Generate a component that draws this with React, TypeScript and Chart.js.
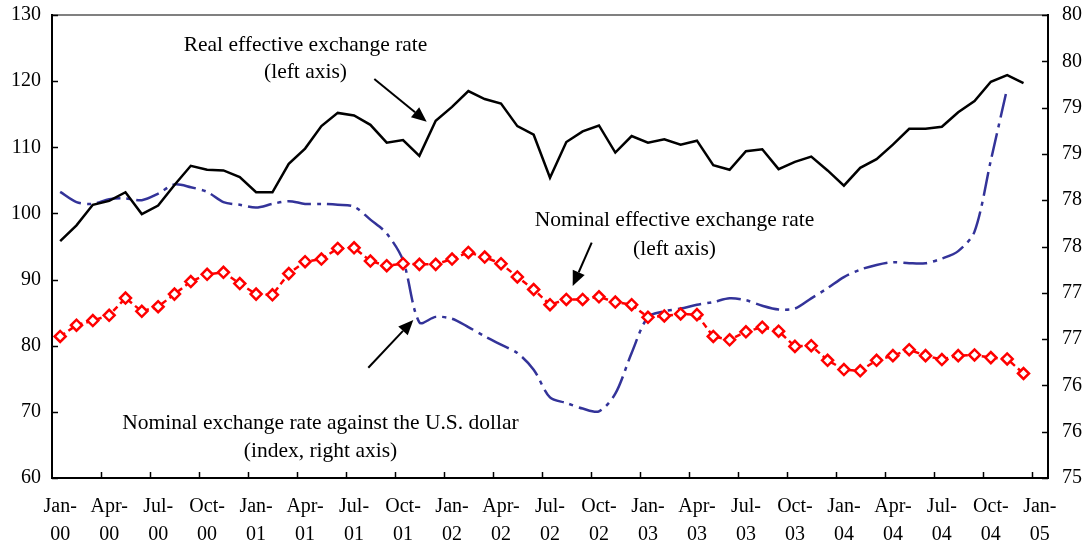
import React, { useEffect, useRef } from "react";
import { Chart, registerables } from "chart.js";

Chart.register(...registerables);

const MONTHS = ["Jan", "Feb", "Mar", "Apr", "May", "Jun", "Jul", "Aug", "Sep", "Oct", "Nov", "Dec"];
const YEARS = ["00", "01", "02", "03", "04", "05"];
const CATEGORIES: string[] = [];
YEARS.forEach((y) => MONTHS.forEach((m) => CATEGORIES.push(`${m}-${y}`)));
CATEGORIES.splice(61); // Jan-00 .. Jan-05

const REAL_EFFECTIVE = [
  95.8, 98.2, 101.3, 101.9, 103.2, 99.9, 101.2, 104.3, 107.2, 106.6, 106.5, 105.5,
  103.2, 103.2, 107.5, 109.8, 113.2, 115.2, 114.8, 113.4, 110.7, 111.1, 108.7, 114.0,
  116.1, 118.5, 117.3, 116.6, 113.2, 111.9, 105.4, 110.8, 112.4, 113.3, 109.2, 111.7,
  110.7, 111.2, 110.4, 111.0, 107.3, 106.6, 109.4, 109.7, 106.7, 107.8, 108.6, 106.5,
  104.2, 106.9, 108.2, 110.4, 112.8, 112.8, 113.1, 115.3, 117.0, 119.9, 120.9, 119.7,
];

const NOMINAL_EFFECTIVE = [
  81.4, 83.1, 83.8, 84.6, 87.2, 85.2, 85.9, 87.8, 89.7, 90.8, 91.1, 89.4,
  87.8, 87.7, 90.9, 92.7, 93.1, 94.7, 94.8, 92.8, 92.1, 92.4, 92.3, 92.3,
  93.1, 94.1, 93.4, 92.4, 90.4, 88.5, 86.2, 87.0, 87.0, 87.4, 86.6, 86.2,
  84.3, 84.5, 84.8, 84.7, 81.4, 80.9, 82.1, 82.8, 82.2, 79.9, 80.0, 77.8,
  76.4, 76.2, 77.8, 78.5, 79.4, 78.5, 77.9, 78.5, 78.6, 78.2, 78.0, 75.8,
];

const NOMINAL_USD: (number | null)[] = [
  78.09, 77.98, 77.96, 78.01, 78.02, 78.0, 78.07, 78.17, 78.14, 78.09, 77.98, 77.95,
  77.92, 77.96, 77.99, 77.96, 77.96, 77.95, 77.93, 77.79, 77.64, 77.35, 76.68, 76.74,
  76.72, 76.63, 76.53, 76.44, 76.35, 76.17, 75.87, 75.81, 75.75, 75.72, 75.91, 76.35,
  76.74, 76.8, 76.83, 76.87, 76.9, 76.94, 76.92, 76.86, 76.82, 76.83, 76.94, 77.05,
  77.17, 77.25, 77.3, 77.33, 77.32, 77.32, 77.37, 77.45, 77.66, 78.43, 79.21, null,
];

const LEFT_MIN = 60;
const LEFT_MAX = 130;
const LEFT_STEP = 10;
const RIGHT_MIN = 75;
const RIGHT_MAX = 80;
const RIGHT_STEP = 0.5;

const FONT = "'Liberation Serif', 'Times New Roman', serif";

function drawArrow(ctx: CanvasRenderingContext2D, x1: number, y1: number, x2: number, y2: number) {
  const ang = Math.atan2(y2 - y1, x2 - x1);
  const headLen = 15;
  const headW = 6.5;
  const bx = x2 - headLen * Math.cos(ang);
  const by = y2 - headLen * Math.sin(ang);
  ctx.beginPath();
  ctx.moveTo(x1, y1);
  ctx.lineTo(bx, by);
  ctx.lineWidth = 2;
  ctx.strokeStyle = "#000";
  ctx.stroke();
  ctx.beginPath();
  ctx.moveTo(x2, y2);
  ctx.lineTo(bx + headW * Math.sin(ang), by - headW * Math.cos(ang));
  ctx.lineTo(bx - headW * Math.sin(ang), by + headW * Math.cos(ang));
  ctx.closePath();
  ctx.fillStyle = "#000";
  ctx.fill();
}

const framePlugin = {
  id: "frameAndNotes",
  afterDraw(chart: any) {
    const ctx: CanvasRenderingContext2D = chart.ctx;
    const { left, right, top, bottom } = chart.chartArea;
    ctx.save();
    // top border
    ctx.strokeStyle = "#808080";
    ctx.lineWidth = 2;
    ctx.beginPath();
    ctx.moveTo(left, top);
    ctx.lineTo(right, top);
    ctx.stroke();
    // axes lines
    ctx.strokeStyle = "#000";
    ctx.lineWidth = 2;
    ctx.beginPath();
    ctx.moveTo(left, top - 1);
    ctx.lineTo(left, bottom);
    ctx.lineTo(right, bottom);
    ctx.lineTo(right, top - 1);
    ctx.stroke();
    // inward tick marks
    ctx.lineWidth = 1.5;
    const yL = chart.scales.y;
    yL.ticks.forEach((_: any, i: number) => {
      const py = Math.round(yL.getPixelForTick(i)) + 0.5;
      ctx.beginPath();
      ctx.moveTo(left, py);
      ctx.lineTo(left + 6, py);
      ctx.stroke();
    });
    const yR = chart.scales.y2;
    yR.ticks.forEach((_: any, i: number) => {
      const py = Math.round(yR.getPixelForTick(i)) + 0.5;
      ctx.beginPath();
      ctx.moveTo(right - 6, py);
      ctx.lineTo(right, py);
      ctx.stroke();
    });
    const xs = chart.scales.x;
    const catW = (right - left) / CATEGORIES.length;
    for (let k = 3; k < CATEGORIES.length; k += 3) {
      const px = Math.round(xs.getPixelForValue(k) - catW / 2) + 0.5;
      ctx.beginPath();
      ctx.moveTo(px, bottom);
      ctx.lineTo(px, bottom - 6);
      ctx.stroke();
    }
    // annotations
    ctx.fillStyle = "#000";
    ctx.font = `21.5px ${FONT}`;
    ctx.textAlign = "center";
    ctx.textBaseline = "middle";
    ctx.fillText("Real effective exchange rate", 305.5, 45);
    ctx.fillText("(left axis)", 305.5, 72);
    ctx.fillText("Nominal effective exchange rate", 674.5, 220);
    ctx.fillText("(left axis)", 674.5, 249);
    ctx.fillText("Nominal exchange rate against the U.S. dollar", 320.5, 423);
    ctx.fillText("(index, right axis)", 320.5, 451);
    drawArrow(ctx, 374.3, 79, 426.7, 121.7);
    drawArrow(ctx, 591.7, 242.7, 572.7, 286);
    drawArrow(ctx, 368.3, 367.7, 413.3, 320);
    ctx.restore();
  },
};

export default function App() {
  const canvasRef = useRef<HTMLCanvasElement | null>(null);

  useEffect(() => {
    document.body.style.margin = "0";
    const canvas = canvasRef.current;
    if (!canvas) return;
    const tickFont = { family: FONT, size: 20 };
    const chart = new Chart(canvas, {
      type: "line",
      data: {
        labels: CATEGORIES,
        datasets: [
          {
            label: "Real effective exchange rate",
            data: REAL_EFFECTIVE,
            yAxisID: "y",
            borderColor: "#000000",
            borderWidth: 2.5,
            pointRadius: 0,
            tension: 0,
            fill: false,
            order: 1,
          },
          {
            label: "Nominal effective exchange rate",
            data: NOMINAL_EFFECTIVE,
            yAxisID: "y",
            borderColor: "#ff0000",
            borderWidth: 2.5,
            borderDash: [6, 4],
            pointStyle: "rectRot",
            pointRadius: 5.5,
            pointBorderWidth: 2.5,
            pointBackgroundColor: "#ffffff",
            pointBorderColor: "#ff0000",
            tension: 0,
            fill: false,
            order: 2,
          },
          {
            label: "Nominal exchange rate against the U.S. dollar",
            data: NOMINAL_USD,
            yAxisID: "y2",
            borderColor: "#333399",
            borderWidth: 2.5,
            borderDash: [24, 6, 4, 6],
            pointRadius: 0,
            tension: 0.3,
            spanGaps: false,
            fill: false,
            order: 3,
          },
        ],
      },
      options: {
        animation: false,
        responsive: true,
        maintainAspectRatio: false,
        layout: { padding: { top: 15, left: 0, right: 0, bottom: 0 } },
        plugins: {
          legend: { display: false },
          title: { display: false },
          tooltip: { enabled: false },
        },
        scales: {
          x: {
            type: "category",
            offset: true,
            grid: { display: false, drawTicks: false },
            border: { display: false },
            ticks: {
              autoSkip: false,
              maxRotation: 0,
              minRotation: 0,
              padding: 15,
              color: "#000",
              font: { ...tickFont, lineHeight: 1.4 },
              callback: (_v: any, idx: number) => {
                if (idx % 3 !== 0) return "";
                const [m, y] = CATEGORIES[idx].split("-");
                return [`${m}-`, y];
              },
            },
            afterFit: (s: any) => {
              s.height = 67;
              s.paddingLeft = 0;
              s.paddingRight = 0;
            },
          },
          y: {
            position: "left",
            min: LEFT_MIN,
            max: LEFT_MAX,
            grid: { display: false, drawTicks: false },
            border: { display: false },
            ticks: { stepSize: LEFT_STEP, padding: 11, color: "#000", font: tickFont },
            afterFit: (s: any) => {
              s.width = 52;
              s.paddingTop = 0;
              s.paddingBottom = 0;
            },
          },
          y2: {
            position: "right",
            min: RIGHT_MIN,
            max: RIGHT_MAX,
            grid: { display: false, drawTicks: false },
            border: { display: false },
            ticks: {
              stepSize: RIGHT_STEP,
              padding: 14,
              color: "#000",
              font: tickFont,
              callback: (v: any) => String(Math.round(Number(v))),
            },
            afterFit: (s: any) => {
              s.width = 41;
              s.paddingTop = 0;
              s.paddingBottom = 0;
            },
          },
        },
      },
      plugins: [framePlugin],
    });
    return () => chart.destroy();
  }, []);

  return (
    <div style={{ position: "absolute", left: 0, top: 0, width: 1089, height: 545 }}>
      <canvas ref={canvasRef} />
    </div>
  );
}
